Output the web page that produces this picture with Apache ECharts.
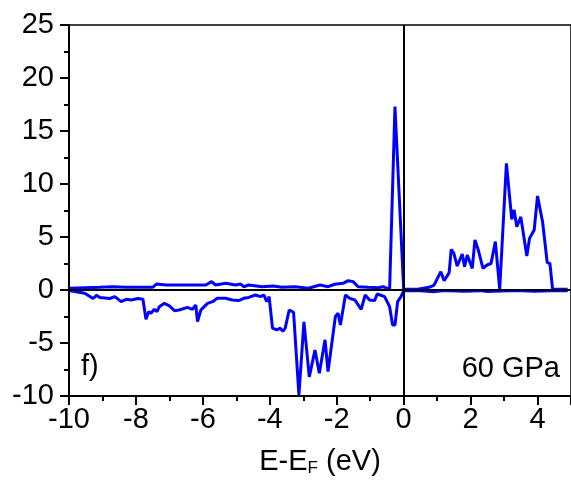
<!DOCTYPE html>
<html>
<head>
<meta charset="utf-8">
<script src="https://cdn.jsdelivr.net/npm/echarts@6/dist/echarts.min.js"></script>
<style>
html,body{margin:0;padding:0;background:#fff;}
#chart{width:571px;height:493px;}
</style>
</head>
<body>
<div id="chart"></div>
<script>
// Spin-up DOS (positive)
var upX = [-9.97,-9.08,-8.69,-8.29,-7.84,-7.5,-7.38,-7.1,-6.8,-6.51,-6.21,-5.91,-5.74,-5.62,-5.32,-5.02,-4.88,-4.78,-4.63,-4.23,-3.89,-3.64,-3.24,-2.85,-2.5,-2.26,-2.06,-1.81,-1.66,-1.51,-1.36,-1.07,-0.77,-0.62,-0.42,-0.26,0.0,0.42,0.76,0.91,1.11,1.21,1.36,1.42,1.5,1.6,1.75,1.82,1.9,2.05,2.13,2.23,2.37,2.49,2.61,2.74,2.87,3.07,3.23,3.3,3.38,3.5,3.68,3.76,3.9,4.0,4.15,4.29,4.37,4.45,4.9];
var upY = [0.16,0.25,0.31,0.25,0.25,0.25,0.57,0.47,0.47,0.47,0.47,0.47,0.79,0.47,0.63,0.47,0.57,0.31,0.47,0.31,0.38,0.25,0.31,0.16,0.47,0.31,0.54,0.63,0.88,0.79,0.31,0.25,0.22,0.31,0.07,17.3,0.07,0.07,0.25,0.47,1.73,0.88,1.64,3.84,3.46,2.26,3.4,2.2,3.3,2.04,4.72,3.77,2.04,2.36,2.5,4.56,0.07,11.95,6.67,7.55,5.97,6.9,3.2,4.87,5.66,8.87,6.44,2.58,2.5,0.07,0.07];
// Spin-down DOS (negative)
var dnX = [-9.97,-9.53,-9.28,-9.18,-9.08,-8.78,-8.63,-8.44,-8.29,-8.14,-7.94,-7.79,-7.7,-7.62,-7.55,-7.45,-7.37,-7.3,-7.15,-7.0,-6.85,-6.71,-6.46,-6.31,-6.21,-6.16,-6.06,-5.96,-5.86,-5.71,-5.57,-5.32,-5.12,-4.93,-4.78,-4.63,-4.43,-4.28,-4.18,-4.09,-4.02,-3.92,-3.79,-3.69,-3.61,-3.54,-3.42,-3.29,-3.13,-2.98,-2.82,-2.65,-2.52,-2.35,-2.26,-2.04,-1.96,-1.89,-1.74,-1.61,-1.46,-1.27,-1.15,-1.02,-0.87,-0.79,-0.57,-0.42,-0.33,-0.26,-0.18,-0.08,0.0,0.5,0.9,1.2,1.8,2.3,2.5,2.9,3.4,3.9,4.4,4.9];
var dnY = [-0.07,-0.3,-0.8,-0.5,-0.7,-0.8,-0.63,-1.1,-0.88,-0.94,-0.8,-0.88,-2.77,-2.05,-2.2,-1.82,-2.05,-1.57,-1.26,-1.5,-1.95,-1.89,-1.64,-1.82,-1.42,-2.99,-1.89,-1.57,-1.26,-1.1,-0.78,-0.78,-0.94,-1.0,-0.78,-0.7,-0.47,-0.63,-0.47,-1.1,-0.63,-3.6,-3.77,-3.6,-3.9,-3.6,-1.89,-2.1,-9.9,-3.0,-8.2,-5.66,-7.86,-4.7,-7.7,-2.5,-2.2,-3.3,-0.47,-0.79,-0.94,-1.82,-0.47,-0.94,-1.0,-0.38,-0.63,-1.57,-3.3,-3.3,-1.1,-0.63,-0.07,-0.08,-0.16,-0.05,-0.12,-0.06,-0.14,-0.1,-0.05,-0.12,-0.08,-0.06];

var xRange = [-10, 5];
var yRange = [-10, 25];
var panelLabel = 'f)';
var pressureLabel = '60 GPa';

function pairs(xs, ys){ return xs.map(function(x,i){ return [x, ys[i]]; }); }

var FONT = '"Liberation Sans", Arial, sans-serif';
var FS = 29;
var chart = echarts.init(document.getElementById('chart'), null, {renderer:'canvas'});
chart.setOption({
  animation: false,
  backgroundColor: '#fff',
  grid: {left: 69, right: -3.5, top: 25, bottom: 97, show: true, borderColor: '#000', borderWidth: 1.5, backgroundColor: 'transparent'},
  xAxis: {
    type: 'value', min: xRange[0], max: xRange[1], interval: 2,
    name: '{a|E-E}{s|F}{a| (eV)}', nameLocation: 'middle', nameGap: 50,
    nameTextStyle: {rich: {a: {fontSize: FS, fontFamily: FONT, color: '#000'}, s: {fontSize: 17, fontFamily: FONT, color: '#000', verticalAlign: 'bottom', padding: [14,0,0,0]}}},
    axisLine: {onZero: false, lineStyle: {color: '#000', width: 2}},
    axisTick: {show: true, length: 9, lineStyle: {color: '#000', width: 2}},
    minorTick: {show: true, splitNumber: 2, length: 5, lineStyle: {color: '#000', width: 2}},
    axisLabel: {fontSize: FS, fontFamily: FONT, color: '#000', margin: 9, showMaxLabel: false},
    splitLine: {show: false}
  },
  yAxis: {
    type: 'value', min: yRange[0], max: yRange[1], interval: 5,
    axisLine: {onZero: false, lineStyle: {color: '#000', width: 2}},
    axisTick: {show: true, length: 9, lineStyle: {color: '#000', width: 2}},
    minorTick: {show: true, splitNumber: 2, length: 5, lineStyle: {color: '#000', width: 2}},
    axisLabel: {fontSize: FS, fontFamily: FONT, color: '#000', margin: 15},
    splitLine: {show: false}
  },
  graphic: [
    {type: 'text', left: 81, top: 352, style: {text: panelLabel, font: FS + 'px ' + FONT, fill: '#000'}, z: 10},
    {type: 'text', right: 11, top: 354, style: {text: pressureLabel, font: FS + 'px ' + FONT, fill: '#000'}, z: 10}
  ],
  series: [
    {type: 'line', data: [], z: 1, silent: true,
     markLine: {silent: true, symbol: 'none', label: {show: false}, lineStyle: {color: '#000', width: 2, type: 'solid'},
       data: [{xAxis: 0}, {yAxis: 0}]}},
    {type: 'line', data: pairs(upX, upY), showSymbol: false, symbol: 'none', z: 3,
     lineStyle: {color: '#0000ff', width: 3}},
    {type: 'line', data: pairs(dnX, dnY), showSymbol: false, symbol: 'none', z: 3,
     lineStyle: {color: '#0000ff', width: 3}}
  ]
});
</script>
</body>
</html>
